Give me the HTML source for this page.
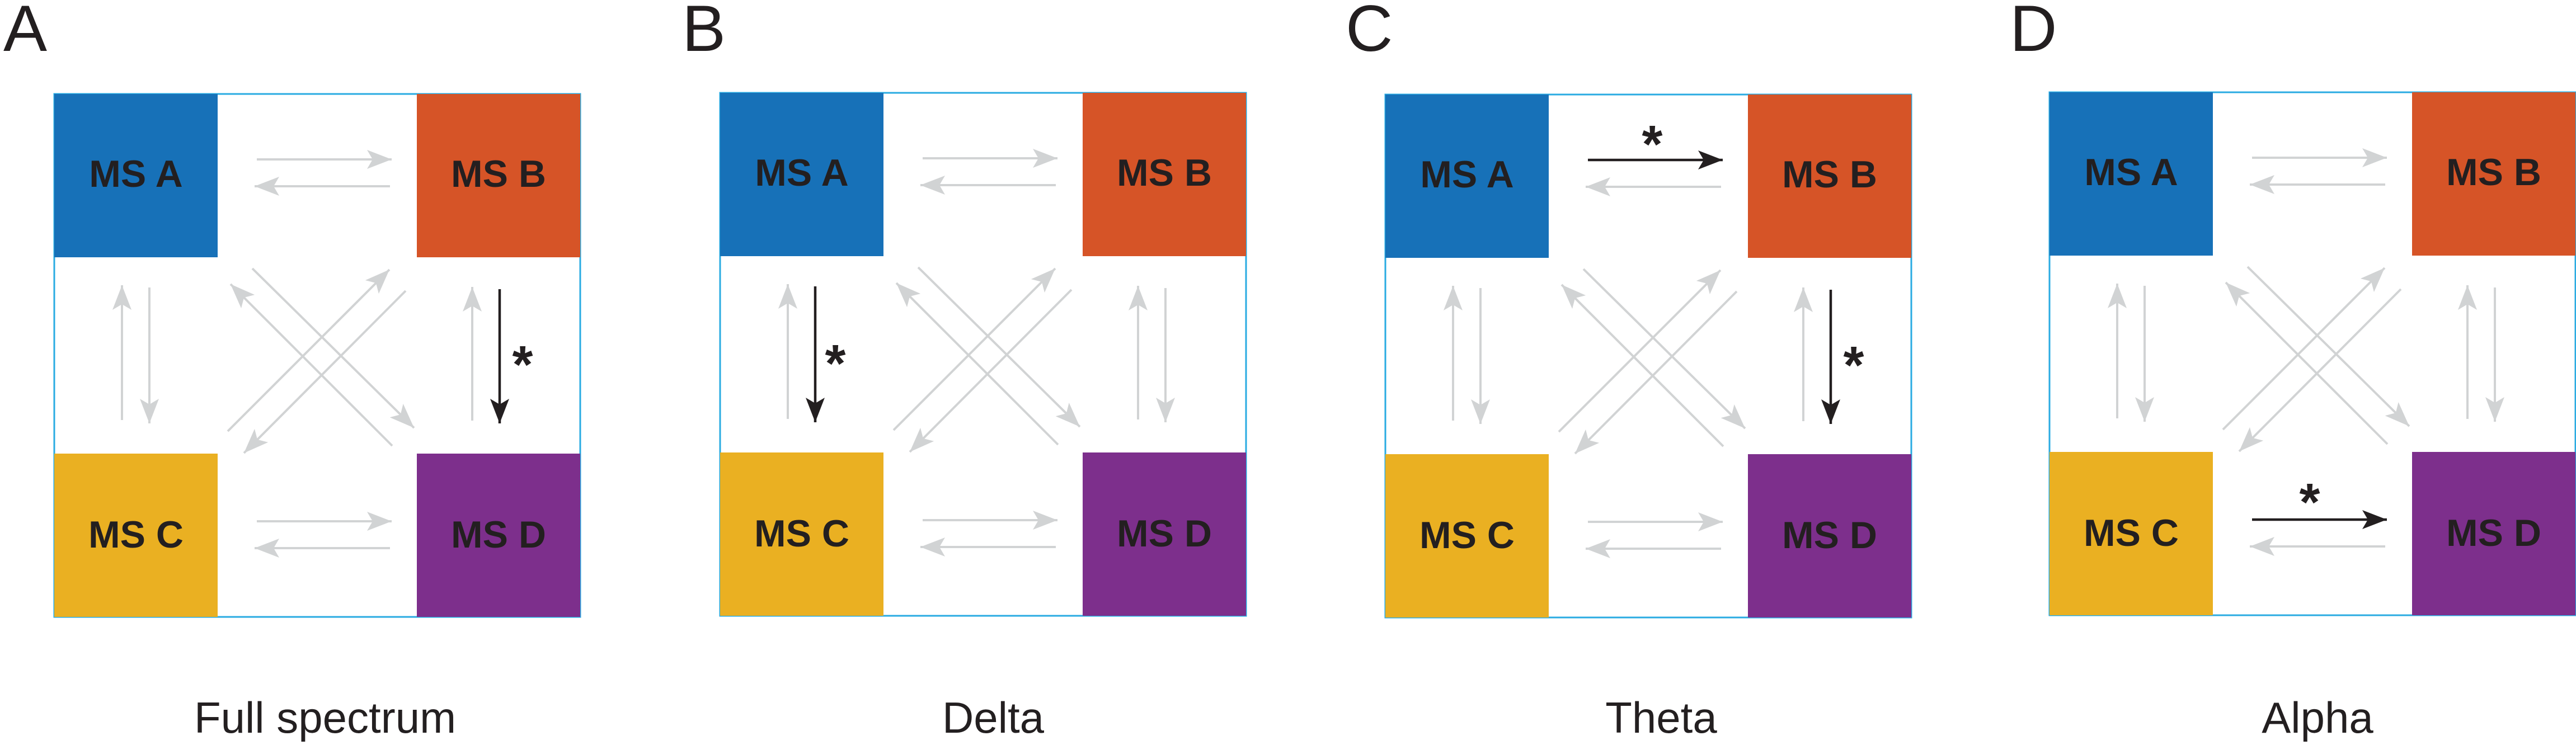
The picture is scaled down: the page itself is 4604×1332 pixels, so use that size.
<!DOCTYPE html>
<html><head><meta charset="utf-8">
<style>
html,body{margin:0;padding:0;background:#fff;}
svg{display:block;}
</style></head>
<body>
<svg width="4604" height="1332" viewBox="0 0 4604 1332" xmlns="http://www.w3.org/2000/svg">
<defs>
<marker id="g" markerUnits="userSpaceOnUse" viewBox="0 0 44 34" refX="44" refY="17" markerWidth="44" markerHeight="34" orient="auto">
<path d="M0,0 L44,17 L0,34 L10,17 Z" fill="#d1d3d4"/></marker>
<marker id="k" markerUnits="userSpaceOnUse" viewBox="0 0 44 34" refX="44" refY="17" markerWidth="44" markerHeight="34" orient="auto">
<path d="M0,0 L44,17 L0,34 L10,17 Z" fill="#231f20"/></marker>
<g id="sq">
<rect x="0" y="0" width="940" height="935" fill="none" stroke="#29abe2" stroke-width="3"/>
<rect x="0" y="0" width="292" height="292" fill="#1771b8"/>
<rect x="648" y="0" width="292" height="292" fill="#d65427"/>
<rect x="0" y="643" width="292" height="292" fill="#eab022"/>
<rect x="648" y="643" width="292" height="292" fill="#7d2f8c"/>
<g font-family="Liberation Sans, Arial, sans-serif" font-weight="bold" font-size="68" fill="#231f20" text-anchor="middle">
<text x="146" y="166">MS A</text>
<text x="794" y="166">MS B</text>
<text x="146" y="811">MS C</text>
<text x="794" y="811">MS D</text>
</g>
<g stroke="#d1d3d4" stroke-width="4" fill="none" marker-end="url(#g)">
<line x1="600" y1="165" x2="358" y2="165"/>
<line x1="600" y1="812" x2="358" y2="812"/>
<line x1="121" y1="583" x2="121" y2="342"/>
<line x1="747" y1="584" x2="747" y2="345"/>
<line x1="354" y1="312" x2="643" y2="597"/>
<line x1="604" y1="629" x2="315" y2="340"/>
<line x1="310" y1="603" x2="599" y2="314"/>
<line x1="628" y1="352" x2="339" y2="642"/>
</g>
</g>
</defs>
<g font-family="Liberation Sans, Arial, sans-serif" font-size="117" fill="#231f20">
<text x="6" y="91">A</text>
<text x="1219" y="91">B</text>
<text x="2405" y="91">C</text>
<text x="3592" y="91">D</text>
</g>
<g font-family="Liberation Sans, Arial, sans-serif" font-size="78" fill="#231f20" text-anchor="middle">
<text x="581" y="1310">Full spectrum</text>
<text x="1775" y="1310">Delta</text>
<text x="2969" y="1310">Theta</text>
<text x="4142" y="1310">Alpha</text>
</g>

<!-- Panel A -->
<g transform="translate(97,168)">
<use href="#sq"/>
<g stroke="#d1d3d4" stroke-width="4" fill="none" marker-end="url(#g)">
<line x1="362" y1="117" x2="603" y2="117"/>
<line x1="362" y1="764" x2="603" y2="764"/>
<line x1="170" y1="346" x2="170" y2="589"/>
</g>
<line x1="796" y1="349" x2="796" y2="589" stroke="#231f20" stroke-width="4.5" marker-end="url(#k)"/>
<text x="837" y="516" font-family="Liberation Sans, Arial, sans-serif" font-weight="bold" font-size="95" fill="#231f20" text-anchor="middle">*</text>
</g>

<!-- Panel B -->
<g transform="translate(1287,166)">
<use href="#sq"/>
<g stroke="#d1d3d4" stroke-width="4" fill="none" marker-end="url(#g)">
<line x1="362" y1="117" x2="603" y2="117"/>
<line x1="362" y1="764" x2="603" y2="764"/>
<line x1="796" y1="349" x2="796" y2="589"/>
</g>
<line x1="170" y1="346" x2="170" y2="589" stroke="#231f20" stroke-width="4.5" marker-end="url(#k)"/>
<text x="206" y="516" font-family="Liberation Sans, Arial, sans-serif" font-weight="bold" font-size="95" fill="#231f20" text-anchor="middle">*</text>
</g>

<!-- Panel C -->
<g transform="translate(2476,169)">
<use href="#sq"/>
<g stroke="#d1d3d4" stroke-width="4" fill="none" marker-end="url(#g)">
<line x1="362" y1="764" x2="603" y2="764"/>
<line x1="170" y1="346" x2="170" y2="589"/>
</g>
<line x1="362" y1="117" x2="603" y2="117" stroke="#231f20" stroke-width="4.5" marker-end="url(#k)"/>
<text x="477" y="121" font-family="Liberation Sans, Arial, sans-serif" font-weight="bold" font-size="95" fill="#231f20" text-anchor="middle">*</text>
<line x1="796" y1="349" x2="796" y2="589" stroke="#231f20" stroke-width="4.5" marker-end="url(#k)"/>
<text x="837" y="516" font-family="Liberation Sans, Arial, sans-serif" font-weight="bold" font-size="95" fill="#231f20" text-anchor="middle">*</text>
</g>

<!-- Panel D -->
<g transform="translate(3663,165)">
<use href="#sq"/>
<g stroke="#d1d3d4" stroke-width="4" fill="none" marker-end="url(#g)">
<line x1="362" y1="117" x2="603" y2="117"/>
<line x1="170" y1="346" x2="170" y2="589"/>
<line x1="796" y1="349" x2="796" y2="589"/>
</g>
<line x1="362" y1="764" x2="603" y2="764" stroke="#231f20" stroke-width="4.5" marker-end="url(#k)"/>
<text x="465" y="765" font-family="Liberation Sans, Arial, sans-serif" font-weight="bold" font-size="95" fill="#231f20" text-anchor="middle">*</text>
</g>
</svg>
</body></html>
